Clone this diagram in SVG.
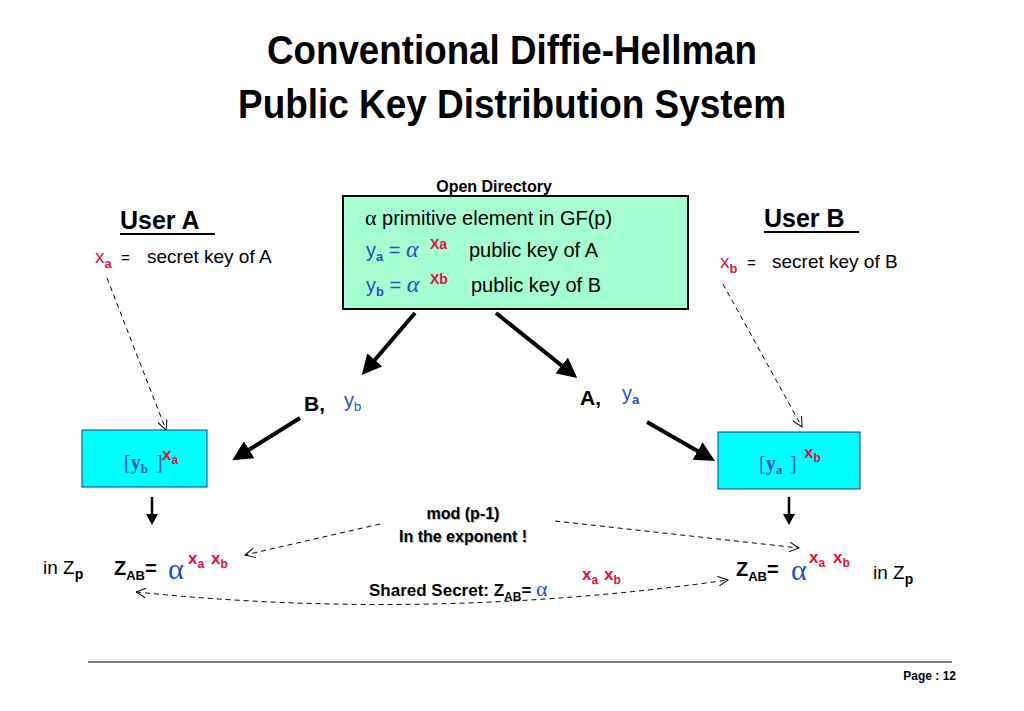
<svg xmlns="http://www.w3.org/2000/svg" width="1024" height="711" viewBox="0 0 1024 711">
<style>
text{font-family:"Liberation Sans",Arial,sans-serif;}
.t{font-size:40px;font-weight:bold;}
.b{font-weight:bold;}
.blue{fill:#1f4fbf;}
.red{fill:#e0103c;}
.thick{stroke:#000;stroke-width:4;fill:none;}
.dash{stroke:#000;stroke-width:1;stroke-dasharray:5,4;fill:none;}
.serif{font-family:"Liberation Serif","Times New Roman",serif;}
</style>
<defs>
<marker id="ah" markerWidth="5" markerHeight="5" refX="3" refY="2.5" orient="auto"><path d="M0,0 L5,2.5 L0,5 Z" fill="#000"/></marker>
<marker id="oa" markerWidth="12" markerHeight="10" refX="10" refY="5" orient="auto" markerUnits="userSpaceOnUse"><path d="M0,0 L10,5 L0,10" fill="none" stroke="#000" stroke-width="1"/></marker>
<marker id="oas" markerWidth="12" markerHeight="10" refX="0" refY="5" orient="auto" markerUnits="userSpaceOnUse"><path d="M10,0 L0,5 L10,10" fill="none" stroke="#000" stroke-width="1"/></marker>
</defs>
<rect width="1024" height="711" fill="#fff"/>
<text class="t" x="512" y="64" text-anchor="middle" textLength="490" lengthAdjust="spacingAndGlyphs">Conventional Diffie-Hellman</text>
<text class="t" x="512" y="118" text-anchor="middle" textLength="548" lengthAdjust="spacingAndGlyphs">Public Key Distribution System</text>

<g id="directory">
<text class="b" x="494" y="192" font-size="16" text-anchor="middle">Open Directory</text>
<rect x="343" y="196" width="345" height="113" fill="#a6ffd0" stroke="#000" stroke-width="2"/>
<text x="365" y="225" font-size="20"><tspan class="serif" font-size="22">α</tspan> primitive element in GF(p)</text>
<text x="366" y="257" font-size="20"><tspan class="blue">y</tspan><tspan class="blue b" font-size="13" dy="4">a</tspan><tspan class="blue" dy="-4"> = </tspan><tspan class="blue serif" font-style="italic" font-size="24">α</tspan><tspan class="red b" font-size="14" dy="-8" x="430">Xa</tspan><tspan dy="8" x="469">public key of A</tspan></text>
<text x="366" y="292" font-size="20"><tspan class="blue">y</tspan><tspan class="blue b" font-size="13" dy="4">b</tspan><tspan class="blue" dy="-4"> = </tspan><tspan class="blue serif" font-style="italic" font-size="24">α</tspan><tspan class="red b" font-size="14" dy="-8" x="430">Xb</tspan><tspan dy="8" x="471">public key of B</tspan></text>
</g>

<g id="userA">
<text class="b" x="120" y="229" font-size="25">User A</text>
<line x1="120" y1="234" x2="215" y2="234" stroke="#000" stroke-width="2"/>
<text x="95" y="263" font-size="19"><tspan class="red">x</tspan><tspan class="red b" font-size="13" dy="5">a</tspan><tspan dy="-5" font-size="15" x="121">=</tspan><tspan x="147">secret key of A</tspan></text>
</g>
<g id="userB">
<text class="b" x="764" y="227" font-size="25">User B</text>
<line x1="764" y1="232" x2="859" y2="232" stroke="#000" stroke-width="2"/>
<text x="720" y="268" font-size="19"><tspan class="red">x</tspan><tspan class="red b" font-size="13" dy="5">b</tspan><tspan dy="-5" font-size="15" x="747">=</tspan><tspan x="772">secret key of B</tspan></text>
</g>

<g id="boxA">
<rect x="82" y="430" width="125" height="57" fill="#00ffff" stroke="#1a3a6a" stroke-width="1"/>
<text x="124" y="469" font-size="20" class="serif blue b"><tspan font-weight="normal">[</tspan>y<tspan font-size="13" dy="4">b</tspan><tspan dy="-4" font-weight="normal" x="156">]</tspan></text>
<text x="162" y="460" font-size="17" class="red b">x<tspan font-size="12" dy="4">a</tspan></text>
</g>
<g id="boxB">
<rect x="718" y="432" width="142" height="57" fill="#00ffff" stroke="#1a3a6a" stroke-width="1"/>
<text x="759" y="470" font-size="20" class="serif blue b"><tspan font-weight="normal">[</tspan>y<tspan font-size="13" dy="4">a</tspan><tspan dy="-4" font-weight="normal" x="790">]</tspan></text>
<text x="804" y="458" font-size="17" class="red b">x<tspan font-size="12" dy="4">b</tspan></text>
</g>

<g id="labels">
<text class="b" x="304" y="411" font-size="21">B,</text>
<text class="blue" x="344" y="407" font-size="20">y<tspan font-size="13" dy="4">b</tspan></text>
<text class="b" x="580" y="405" font-size="21">A,</text>
<text class="blue" x="622" y="400" font-size="20">y<tspan font-size="13" dy="4" class="b">a</tspan></text>
<text class="b" x="463" y="519" font-size="16" text-anchor="middle" fill="#bbb" transform="translate(1,1)">mod (p-1)</text>
<text class="b" x="463" y="519" font-size="16" text-anchor="middle">mod (p-1)</text>
<text class="b" x="463" y="542" font-size="16" text-anchor="middle" fill="#bbb" transform="translate(1,1)">In the exponent !</text>
<text class="b" x="463" y="542" font-size="16" text-anchor="middle">In the exponent !</text>
</g>

<g id="resultA">
<text x="43" y="574" font-size="19">in Z<tspan class="b" font-size="14" dy="5">p</tspan></text>
<text class="b" x="114" y="575" font-size="20">Z<tspan font-size="13" dy="5">AB</tspan><tspan dy="-5">=</tspan></text>
<text class="blue serif" x="168" y="579" font-size="30">α</text>
<text class="red b" x="188" y="564" font-size="17">x<tspan font-size="12" dy="4">a</tspan><tspan dy="-4" x="211">x</tspan><tspan font-size="12" dy="4">b</tspan></text>
</g>
<g id="shared">
<text class="b" x="369" y="596" font-size="17">Shared Secret: Z<tspan font-size="12" dy="5">AB</tspan><tspan dy="-5">= </tspan><tspan class="blue serif" font-size="22" font-weight="normal">α</tspan></text>
<text class="red b" x="582" y="580" font-size="17">x<tspan font-size="12" dy="4">a</tspan><tspan dy="-4" x="604">x</tspan><tspan font-size="12" dy="4">b</tspan></text>
</g>
<g id="resultB">
<text class="b" x="736" y="576" font-size="20">Z<tspan font-size="13" dy="5">AB</tspan><tspan dy="-5">=</tspan></text>
<text class="blue serif" x="791" y="580" font-size="30">α</text>
<text class="red b" x="809" y="563" font-size="17">x<tspan font-size="12" dy="4">a</tspan><tspan dy="-4" x="833">x</tspan><tspan font-size="12" dy="4">b</tspan></text>
<text x="873" y="579" font-size="19">in Z<tspan class="b" font-size="14" dy="5">p</tspan></text>
</g>

<g id="connectors">
<line class="thick" x1="415" y1="313" x2="367" y2="369" marker-end="url(#ah)"/>
<line class="thick" x1="496" y1="313" x2="571" y2="373" marker-end="url(#ah)"/>
<line class="thick" x1="300" y1="418" x2="239" y2="456" marker-end="url(#ah)"/>
<line class="thick" x1="647" y1="422" x2="708" y2="457" marker-end="url(#ah)"/>
<line x1="152" y1="497" x2="152" y2="516" stroke="#000" stroke-width="2.5"/>
<path d="M146,514 L158,514 L152,525 Z" fill="#000"/>
<line x1="789" y1="497" x2="789" y2="516" stroke="#000" stroke-width="2.5"/>
<path d="M783,514 L795,514 L789,525 Z" fill="#000"/>
<line class="dash" x1="107" y1="278" x2="166" y2="430" marker-end="url(#oa)"/>
<line class="dash" x1="723" y1="284" x2="802" y2="427" marker-end="url(#oa)"/>
<line class="dash" x1="380" y1="524" x2="245" y2="555" marker-end="url(#oa)"/>
<line class="dash" x1="555" y1="521" x2="799" y2="548" marker-end="url(#oa)"/>
<path class="dash" d="M136,592 Q430,622 728,580" marker-start="url(#oas)" marker-end="url(#oa)"/>
</g>

<line x1="88" y1="662" x2="952" y2="662" stroke="#000" stroke-width="1"/>
<text class="b" x="956" y="680" font-size="12" text-anchor="end">Page :  12</text>
</svg>
